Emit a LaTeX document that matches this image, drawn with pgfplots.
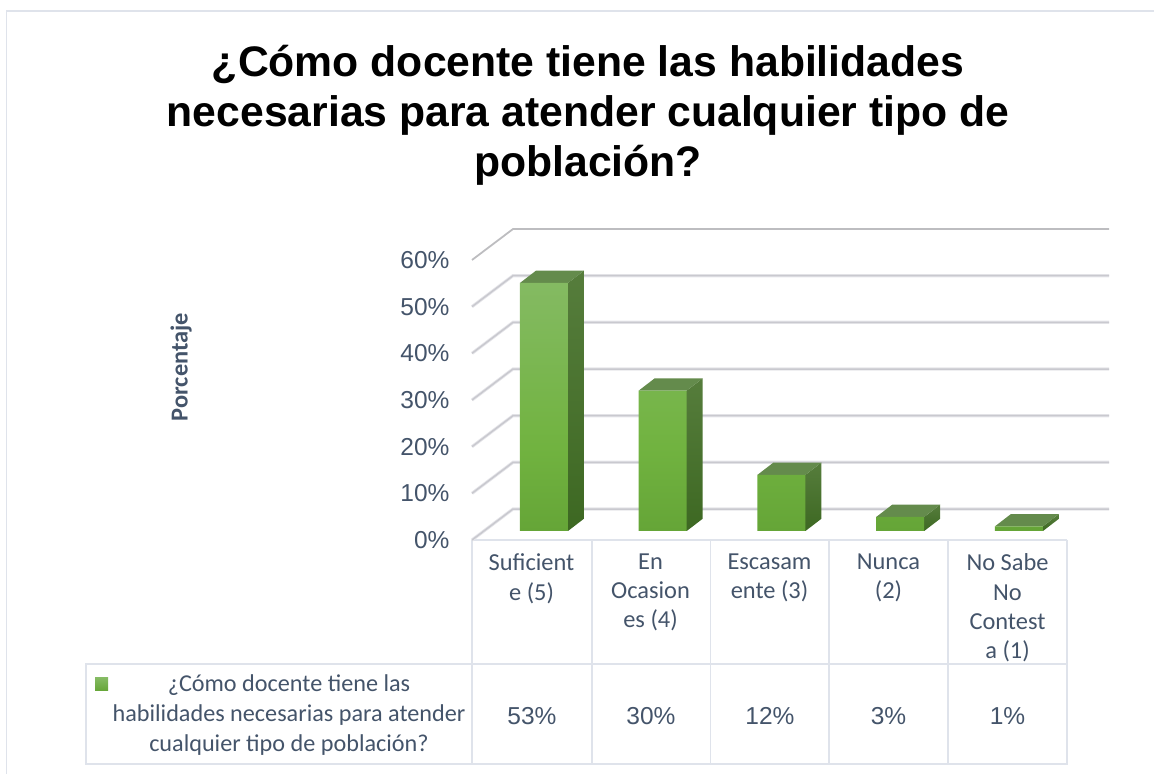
\documentclass[border=0pt]{standalone}
\usepackage{fontspec}
\usepackage{pgfplots}
\pgfplotsset{compat=1.18}
\setmainfont{Liberation Sans}
\newfontfamily\carlito{Carlito}
\definecolor{txt}{HTML}{44546A}
\definecolor{tbl}{HTML}{DFE3EB}
\definecolor{gridA}{HTML}{C9C9CF}
\definecolor{gridB}{HTML}{E6E6EA}
\definecolor{gridTop}{HTML}{BDBDC0}
\definecolor{topF}{HTML}{648B4C}
\definecolor{sideT}{HTML}{567D3C}
\definecolor{sideB}{HTML}{3D6822}
\definecolor{frontT}{HTML}{84BA62}
\definecolor{frontM}{HTML}{71B340}
\definecolor{frontB}{HTML}{65A537}
\pgfdeclareverticalshading{barsh}{100bp}{color(0bp)=(frontB); color(25bp)=(frontB); color(42bp)=(frontM); color(75bp)=(frontT); color(100bp)=(frontT)}
\begin{document}
\begin{tikzpicture}[x=1pt,y=1pt]
\path[use as bounding box] (0,0) rectangle (1154,774);
% page frame
\draw[tbl,line width=1.5pt] (6.5,0) -- (6.5,763) -- (1154,763);
% data table rules
\draw[tbl,line width=1.8pt] (472,234) -- (1067,234);
\draw[tbl,line width=1.8pt] (86,110) rectangle (1067,10);
\foreach \x in {472,592,710.5,829,948,1067} \draw[tbl,line width=1.8pt] (\x,234) -- (\x,10);
% wall and floor, tick labels, titles
\begin{axis}[
  at={(472pt,234pt)},anchor=south west,scale only axis,
  width=595pt,height=280pt,
  xmin=-0.5,xmax=4.5,ymin=0,ymax=60,clip=false,
  axis line style={draw=none},major tick length=0pt,
  xtick={0,1,2,3,4},
  xticklabels={{Suficient\\e (5)},{En\\Ocasion\\es (4)},{Escasam\\ente (3)},{Nunca\\(2)},{No Sabe\\No\\Contest\\a (1)}},
  x tick label style={align=center,text=txt,anchor=north,yshift=-10.5pt,font=\carlito\fontsize{24.4}{29.1}\selectfont},
  ytick={0,10,20,30,40,50,60},
  yticklabels={0\%,10\%,20\%,30\%,40\%,50\%,60\%},
  y tick label style={anchor=east,text=txt,xshift=-19pt,font=\fontsize{24.5}{28}\selectfont},
  title={¿Cómo docente tiene las habilidades\\necesarias para atender cualquier tipo de\\población?},
  title style={at={(0.195,1.496)},anchor=center,align=center,font=\bfseries\fontsize{42.7}{50}\selectfont},
  ylabel={Porcentaje},
  ylabel style={at={(-0.4890,0.618)},anchor=center,text=txt,font=\carlito\bfseries\fontsize{24.4}{28}\selectfont},
]
\addplot[gridB,line width=3.2pt,forget plot,unbounded coords=jump] table {
x y
-0.5 0
-0.1555 6.64
4.853 6.64
nan nan
-0.5 10
-0.1555 16.64
4.853 16.64
nan nan
-0.5 20
-0.1555 26.64
4.853 26.64
nan nan
-0.5 30
-0.1555 36.64
4.853 36.64
nan nan
-0.5 40
-0.1555 46.64
4.853 46.64
nan nan
-0.5 50
-0.1555 56.64
4.853 56.64
};
\addplot[gridA,line width=1.5pt,forget plot,unbounded coords=jump] table {
x y
-0.5 0
-0.1555 6.64
4.853 6.64
nan nan
-0.5 10
-0.1555 16.64
4.853 16.64
nan nan
-0.5 20
-0.1555 26.64
4.853 26.64
nan nan
-0.5 30
-0.1555 36.64
4.853 36.64
nan nan
-0.5 40
-0.1555 46.64
4.853 46.64
nan nan
-0.5 50
-0.1555 56.64
4.853 56.64
};
\addplot[gridTop,line width=1.8pt,forget plot] coordinates {(-0.5,60) (-0.1555,66.64) (4.853,66.64)};
\end{axis}
% bars
\begin{axis}[
  at={(484.6pt,243pt)},anchor=south west,scale only axis,
  width=593.75pt,height=280.8pt,
  xmin=-0.5,xmax=4.5,ymin=0,ymax=60,clip=false,hide axis,
]
% side faces
\addplot[draw=none,top color=sideT,bottom color=sideB,forget plot] coordinates {(0.2021,0) (0.3368,2.63) (0.3368,55.63) (0.2021,53)} -- cycle;
\addplot[draw=none,top color=sideT,bottom color=sideB,forget plot] coordinates {(1.2021,0) (1.3368,2.63) (1.3368,32.63) (1.2021,30)} -- cycle;
\addplot[draw=none,top color=sideT,bottom color=sideB,forget plot] coordinates {(2.2021,0) (2.3368,2.63) (2.3368,14.63) (2.2021,12)} -- cycle;
\addplot[draw=none,top color=sideT,bottom color=sideB,forget plot] coordinates {(3.2021,0) (3.3368,2.63) (3.3368,5.63) (3.2021,3)} -- cycle;
\addplot[draw=none,top color=sideT,bottom color=sideB,forget plot] coordinates {(4.2021,0) (4.3368,2.63) (4.3368,3.63) (4.2021,1)} -- cycle;
% top faces
\addplot[draw=none,fill=topF,forget plot] coordinates {(-0.2021,53) (-0.0674,55.63) (0.3368,55.63) (0.2021,53)} -- cycle;
\addplot[draw=none,fill=topF,forget plot] coordinates {(0.7979,30) (0.9326,32.63) (1.3368,32.63) (1.2021,30)} -- cycle;
\addplot[draw=none,fill=topF,forget plot] coordinates {(1.7979,12) (1.9326,14.63) (2.3368,14.63) (2.2021,12)} -- cycle;
\addplot[draw=none,fill=topF,forget plot] coordinates {(2.7979,3) (2.9326,5.63) (3.3368,5.63) (3.2021,3)} -- cycle;
\addplot[draw=none,fill=topF,forget plot] coordinates {(3.7979,1) (3.9326,3.63) (4.3368,3.63) (4.2021,1)} -- cycle;
% front faces
\addplot[ybar,bar width=48pt,draw=none,shading=barsh] coordinates {(0,53) (1,30) (2,12) (3,3) (4,1)};
\end{axis}
% data table text
\fill[top color=frontT,bottom color=frontB] (95,83) rectangle (108,96);
\node[align=center,text=txt,font=\carlito\fontsize{24.2}{29.6}\selectfont] at (289,59) {¿Cómo docente tiene las\\habilidades necesarias para atender\\cualquier tipo de población?};
\foreach \x/\t in {532/53,651/30,770/12,888.5/3,1007.5/1}
  \node[text=txt,font=\fontsize{24.5}{28}\selectfont] at (\x,58) {\t\%};
\end{tikzpicture}
\end{document}
